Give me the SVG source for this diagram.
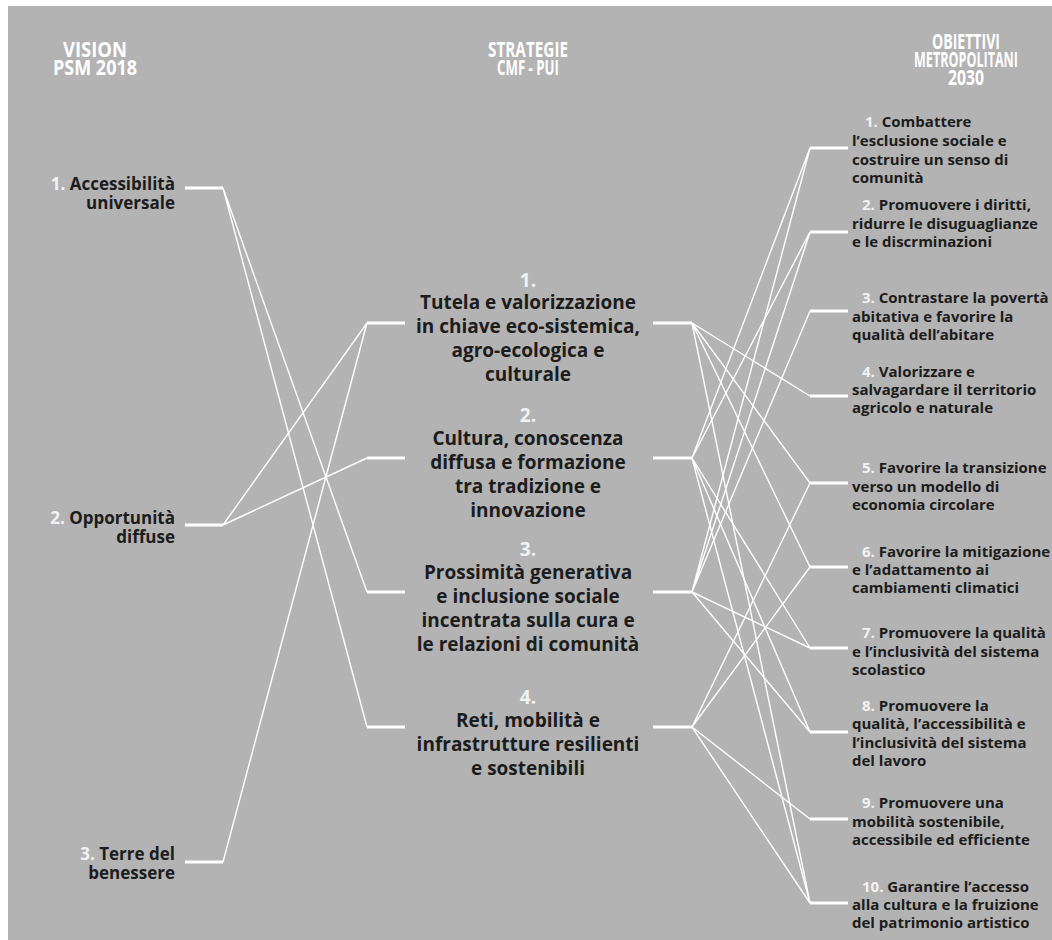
<svg xmlns="http://www.w3.org/2000/svg" width="1052" height="940" viewBox="0 0 1052 940">
<style>
.hd{font-family:"Open Sans","DejaVu Sans",sans-serif;font-weight:700;font-size:21px;fill:#ffffff;text-anchor:middle}
.lt{font-family:"Open Sans","DejaVu Sans",sans-serif;font-weight:700;font-size:17px;fill:#1c1c1c;text-anchor:end}
.mt{font-family:"Open Sans","DejaVu Sans",sans-serif;font-weight:700;font-size:19px;fill:#1c1c1c;text-anchor:middle}
.rt{font-family:"Open Sans","DejaVu Sans",sans-serif;font-weight:700;font-size:15px;fill:#1c1c1c}
.num{fill:#f2f2f2}
.bar{stroke:#ffffff;stroke-width:3.2;fill:none}
.cn{stroke:#ffffff;stroke-width:1.4;fill:none}
</style>
<rect x="0" y="0" width="1052" height="940" fill="#ffffff"/>
<rect x="8" y="6" width="1044" height="934" fill="#b3b3b3"/>

<g id="headers">
<text class="hd" x="95" y="57" textLength="64" lengthAdjust="spacingAndGlyphs">VISION</text>
<text class="hd" x="95" y="75" textLength="84" lengthAdjust="spacingAndGlyphs">PSM 2018</text>
<text class="hd" x="528" y="57" textLength="80" lengthAdjust="spacingAndGlyphs">STRATEGIE</text>
<text class="hd" x="528" y="75" textLength="62" lengthAdjust="spacingAndGlyphs">CMF - PUI</text>
<text class="hd" x="966" y="49" textLength="68" lengthAdjust="spacingAndGlyphs">OBIETTIVI</text>
<text class="hd" x="966" y="67" textLength="104" lengthAdjust="spacingAndGlyphs">METROPOLITANI</text>
<text class="hd" x="966" y="85" textLength="36" lengthAdjust="spacingAndGlyphs">2030</text>
</g>

<g id="connectors">
<path class="cn" d="M223,188 L367,592 M223,188 L367,727 M223,525 L367,323 M223,525 L367,458 M223,862 L367,323"/>
<path class="cn" d="M692,323 L810,396 M692,323 L810,483 M692,323 L810,567 M692,323 L810,903"/>
<path class="cn" d="M692,458 L810,148 M692,458 L810,232 M692,458 L810,648 M692,458 L810,732 M692,458 L810,903"/>
<path class="cn" d="M692,592 L810,148 M692,592 L810,232 M692,592 L810,311 M692,592 L810,648 M692,592 L810,732"/>
<path class="cn" d="M692,727 L810,483 M692,727 L810,567 M692,727 L810,819 M692,727 L810,903"/>
</g>

<g id="vision-1">
<text class="lt" x="175" y="190"><tspan class="num">1. </tspan>Accessibilità</text>
<text class="lt" x="175" y="209">universale</text>
<line class="bar" x1="185" y1="188" x2="223" y2="188"/>
</g>
<g id="vision-2">
<text class="lt" x="175" y="524"><tspan class="num">2. </tspan>Opportunità</text>
<text class="lt" x="175" y="543">diffuse</text>
<line class="bar" x1="185" y1="525" x2="223" y2="525"/>
</g>
<g id="vision-3">
<text class="lt" x="175" y="860"><tspan class="num">3. </tspan>Terre del</text>
<text class="lt" x="175" y="879">benessere</text>
<line class="bar" x1="185" y1="862" x2="223" y2="862"/>
</g>

<g id="strategia-1">
<text class="mt num" x="528" y="287">1.</text>
<text class="mt" x="528" y="309">Tutela e valorizzazione</text>
<text class="mt" x="528" y="333">in chiave eco-sistemica,</text>
<text class="mt" x="528" y="357">agro-ecologica e</text>
<text class="mt" x="528" y="381">culturale</text>
<line class="bar" x1="367" y1="323" x2="405" y2="323"/>
<line class="bar" x1="653" y1="323" x2="692" y2="323"/>
</g>
<g id="strategia-2">
<text class="mt num" x="528" y="422">2.</text>
<text class="mt" x="528" y="445">Cultura, conoscenza</text>
<text class="mt" x="528" y="469">diffusa e formazione</text>
<text class="mt" x="528" y="493">tra tradizione e</text>
<text class="mt" x="528" y="517">innovazione</text>
<line class="bar" x1="367" y1="458" x2="405" y2="458"/>
<line class="bar" x1="653" y1="458" x2="692" y2="458"/>
</g>
<g id="strategia-3">
<text class="mt num" x="528" y="556">3.</text>
<text class="mt" x="528" y="579">Prossimità generativa</text>
<text class="mt" x="528" y="603">e inclusione sociale</text>
<text class="mt" x="528" y="627">incentrata sulla cura e</text>
<text class="mt" x="528" y="651">le relazioni di comunità</text>
<line class="bar" x1="367" y1="592" x2="405" y2="592"/>
<line class="bar" x1="653" y1="592" x2="692" y2="592"/>
</g>
<g id="strategia-4">
<text class="mt num" x="528" y="704">4.</text>
<text class="mt" x="528" y="727">Reti, mobilità e</text>
<text class="mt" x="528" y="751">infrastrutture resilienti</text>
<text class="mt" x="528" y="775">e sostenibili</text>
<line class="bar" x1="367" y1="727" x2="405" y2="727"/>
<line class="bar" x1="653" y1="727" x2="692" y2="727"/>
</g>

<g id="obiettivo-1">
<text class="rt" x="865" y="127"><tspan class="num">1.</tspan> Combattere</text>
<text class="rt" x="852" y="146">l’esclusione sociale e</text>
<text class="rt" x="852" y="165">costruire un senso di</text>
<text class="rt" x="852" y="183">comunità</text>
<line class="bar" x1="810" y1="148" x2="848" y2="148"/>
</g>
<g id="obiettivo-2">
<text class="rt" x="862" y="210"><tspan class="num">2.</tspan> Promuovere i diritti,</text>
<text class="rt" x="852" y="229">ridurre le disuguaglianze</text>
<text class="rt" x="852" y="247">e le discrminazioni</text>
<line class="bar" x1="810" y1="232" x2="848" y2="232"/>
</g>
<g id="obiettivo-3">
<text class="rt" x="862" y="303"><tspan class="num">3.</tspan> Contrastare la povertà</text>
<text class="rt" x="852" y="322">abitativa e favorire la</text>
<text class="rt" x="852" y="340">qualità dell’abitare</text>
<line class="bar" x1="810" y1="311" x2="848" y2="311"/>
</g>
<g id="obiettivo-4">
<text class="rt" x="862" y="377"><tspan class="num">4.</tspan> Valorizzare e</text>
<text class="rt" x="852" y="395">salvagardare il territorio</text>
<text class="rt" x="852" y="413">agricolo e naturale</text>
<line class="bar" x1="810" y1="396" x2="848" y2="396"/>
</g>
<g id="obiettivo-5">
<text class="rt" x="862" y="473"><tspan class="num">5.</tspan> Favorire la transizione</text>
<text class="rt" x="852" y="492">verso un modello di</text>
<text class="rt" x="852" y="510">economia circolare</text>
<line class="bar" x1="810" y1="483" x2="848" y2="483"/>
</g>
<g id="obiettivo-6">
<text class="rt" x="862" y="557"><tspan class="num">6.</tspan> Favorire la mitigazione</text>
<text class="rt" x="852" y="575">e l’adattamento ai</text>
<text class="rt" x="852" y="593">cambiamenti climatici</text>
<line class="bar" x1="810" y1="567" x2="848" y2="567"/>
</g>
<g id="obiettivo-7">
<text class="rt" x="862" y="638"><tspan class="num">7.</tspan> Promuovere la qualità</text>
<text class="rt" x="852" y="657">e l’inclusività del sistema</text>
<text class="rt" x="852" y="675">scolastico</text>
<line class="bar" x1="810" y1="648" x2="848" y2="648"/>
</g>
<g id="obiettivo-8">
<text class="rt" x="862" y="711"><tspan class="num">8.</tspan> Promuovere la</text>
<text class="rt" x="852" y="729">qualità, l’accessibilità e</text>
<text class="rt" x="852" y="748">l’inclusività del sistema</text>
<text class="rt" x="852" y="766">del lavoro</text>
<line class="bar" x1="810" y1="732" x2="848" y2="732"/>
</g>
<g id="obiettivo-9">
<text class="rt" x="862" y="808"><tspan class="num">9.</tspan>  Promuovere una</text>
<text class="rt" x="852" y="827">mobilità sostenibile,</text>
<text class="rt" x="852" y="845">accessibile ed efficiente</text>
<line class="bar" x1="810" y1="819" x2="848" y2="819"/>
</g>
<g id="obiettivo-10">
<text class="rt" x="862" y="892"><tspan class="num">10.</tspan> Garantire l’accesso</text>
<text class="rt" x="852" y="910">alla cultura e la fruizione</text>
<text class="rt" x="852" y="928">del patrimonio artistico</text>
<line class="bar" x1="810" y1="903" x2="848" y2="903"/>
</g>
</svg>
